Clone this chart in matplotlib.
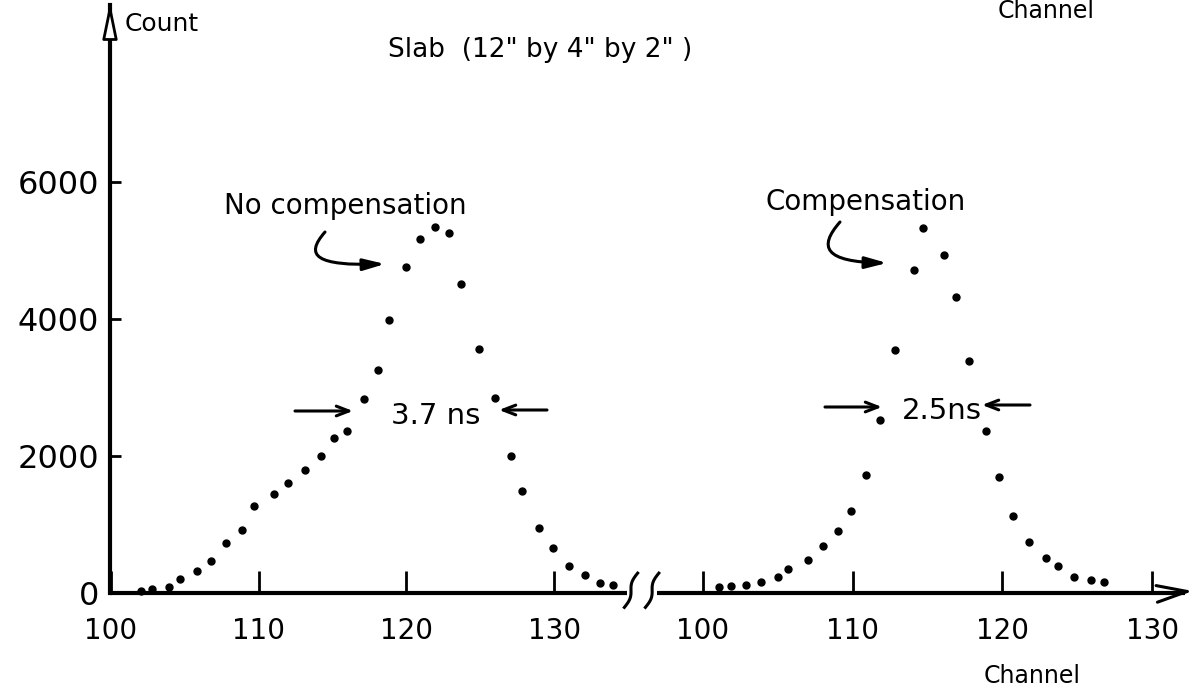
import matplotlib
matplotlib.use('Agg')
import matplotlib.pyplot as plt
import numpy as np
from matplotlib.patches import FancyArrowPatch
from matplotlib.path import Path
from matplotlib.transforms import IdentityTransform

# ---------------- data ----------------
left_channel = [102.0, 102.8, 103.9, 104.7, 105.8, 106.8, 107.8, 108.9, 109.7, 111.0,
                112.0, 113.1, 114.2, 115.1, 116.0, 117.1, 118.1, 118.8, 120.0, 120.9,
                121.9, 122.9, 123.7, 124.9, 126.0, 127.1, 127.8, 129.0, 129.9, 131.0,
                132.1, 133.1, 134.0]
left_count = [30, 60, 90, 210, 320, 460, 730, 920, 1270, 1450,
              1600, 1800, 2000, 2270, 2370, 2830, 3250, 3990, 4760, 5170,
              5350, 5250, 4510, 3560, 2840, 2000, 1490, 950, 660, 400,
              270, 150, 110]

right_channel = [101.1, 101.9, 102.9, 103.9, 105.0, 105.7, 107.0, 108.0, 109.0, 109.9,
                 110.9, 111.8, 112.8, 114.1, 114.7, 116.1, 116.9, 117.8, 118.9, 119.8,
                 120.7, 121.8, 122.9, 123.7, 124.8, 125.9, 126.8]
right_count = [90, 100, 120, 160, 230, 350, 480, 690, 910, 1200,
               1720, 2520, 3550, 4720, 5330, 4930, 4320, 3380, 2360, 1700,
               1130, 750, 510, 400, 240, 190, 165]

section_ticks = [100, 110, 120, 130]
section_tick_labels = ['100', '110', '120', '130']
y_ticks = [0, 2000, 4000, 6000]
y_tick_labels = ['0', '2000', '4000', '6000']

title_text = 'Slab  (12" by 4" by 2" )'
label_left = 'No compensation'
label_right = 'Compensation'
fwhm_left = '3.7 ns'
fwhm_right = '2.5ns'

# ---------------- layout ----------------
W, H = 1195, 693
Y_TOP = 8584
plt.rcParams['font.family'] = ['DejaVu Sans']
fig = plt.figure(figsize=(W / 100, H / 100), dpi=100)
fig.patch.set_facecolor('white')

bottom = (H - 593) / H
height = (593 - 5) / H
axL = fig.add_axes([110 / W, bottom, (640 - 110) / W, height])
axR = fig.add_axes([640 / W, bottom, (1190 - 640) / W, height])
axL.set_xlim(99.93, 135.81)
axR.set_xlim(95.79, 132.53)
for a in (axL, axR):
    a.set_ylim(0, Y_TOP)
    a.patch.set_alpha(0)
    for s in ['top', 'right', 'bottom', 'left']:
        a.spines[s].set_visible(False)
    a.set_xticks(section_ticks)
    a.set_xticklabels(section_tick_labels, fontsize=20)
    a.tick_params(axis='x', direction='in', length=16, width=2, pad=17)

axL.spines['left'].set_visible(True)
axL.spines['left'].set_linewidth(3)
axL.set_yticks(y_ticks)
axL.set_yticklabels(y_tick_labels, fontsize=23)
axL.tick_params(axis='y', direction='in', length=8, width=2, pad=8)
axR.set_yticks([])

# points
axL.plot(left_channel, left_count, 'o', color='black', ms=5, clip_on=False)
axR.plot(right_channel, right_count, 'o', color='black', ms=5, clip_on=False)

# broken x axis
axL.plot([99.93, 134.9], [0, 0], color='black', lw=3, clip_on=False, solid_capstyle='butt')
axR.plot([96.9, 132.2], [0, 0], color='black', lw=3, clip_on=False, solid_capstyle='butt')
t = np.linspace(-1, 1, 30)
axL.plot(135.2 + 0.45 * t - 0.15 * np.sin(np.pi * t), 250 * t + 40, color='black', lw=2.2,
         clip_on=False)
axR.plot(96.6 + 0.45 * t - 0.15 * np.sin(np.pi * t), 250 * t + 40, color='black', lw=2.2,
         clip_on=False)


def P(px, py):
    return (px, H - py)


def arrow(tail, head, style='->,head_length=0.9,head_width=0.35', lw=2.2, fc='black'):
    a = FancyArrowPatch(P(*tail), P(*head), arrowstyle=style, lw=lw, color='black',
                        fc=fc, transform=IdentityTransform(), shrinkA=0, shrinkB=0,
                        mutation_scale=10)
    fig.add_artist(a)


def hook(points):
    verts = [P(*p) for p in points]
    codes = [Path.MOVETO, Path.CURVE4, Path.CURVE4, Path.CURVE4]
    a = FancyArrowPatch(path=Path(verts, codes),
                        arrowstyle='-|>,head_length=1.3,head_width=0.35',
                        lw=2.2, color='black', transform=IdentityTransform(),
                        mutation_scale=10)
    fig.add_artist(a)


# axis arrows
arrow((110, 40), (110, 2), style='-|>,head_length=2.2,head_width=0.45', lw=2, fc='white')
arrow((1168, 593), (1193, 591), style='->,head_length=2.2,head_width=0.6', lw=2.2)

# texts
fig.text(125 / W, 1 - 31 / H, 'Count', fontsize=18, ha='left', va='baseline')
fig.text(1046 / W, 1 - 18 / H, 'Channel', fontsize=17, ha='center', va='baseline')
fig.text(1032 / W, 1 - 683 / H, 'Channel', fontsize=17, ha='center', va='baseline')
fig.text(540 / W, 1 - 57 / H, title_text, fontsize=19, ha='center', va='baseline')
fig.text(345 / W, 1 - 214 / H, label_left, fontsize=20, ha='center', va='baseline')
fig.text(866 / W, 1 - 210 / H, label_right, fontsize=20, ha='center', va='baseline')
fig.text(436 / W, 1 - 424 / H, fwhm_left, fontsize=21, ha='center', va='baseline')
fig.text(942 / W, 1 - 419 / H, fwhm_right, fontsize=21, ha='center', va='baseline')

# annotation arrows
hook([(325, 232), (304, 256), (316, 266), (385, 264)])
hook([(840, 222), (818, 247), (824, 262), (887, 263)])
arrow((295, 411), (353, 411))
arrow((547, 410), (499, 410))
arrow((825, 407), (882, 407))
arrow((1030, 405), (982, 405))

fig.savefig('out.png', dpi=100, facecolor='white')
